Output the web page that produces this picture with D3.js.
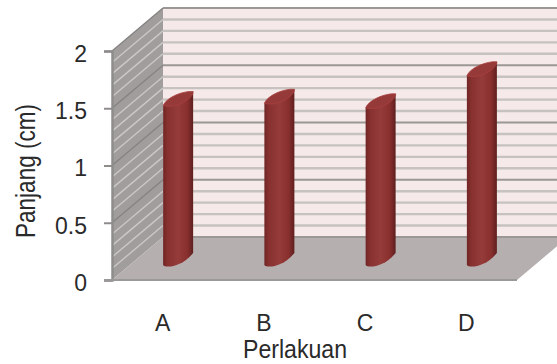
<!DOCTYPE html>
<html>
<head>
<meta charset="utf-8">
<script src="https://cdn.jsdelivr.net/npm/d3@7"></script>
<style>
  html, body { margin: 0; padding: 0; background: #fff; overflow: hidden; }
  svg { display: block; }
  text { font-family: "Liberation Sans Narrow", "Liberation Sans", sans-serif; fill: #2a2a2a; }
</style>
</head>
<body>
<svg id="chart" width="557" height="364"></svg>
<script>
// Panjang per perlakuan
const categories = ["A", "B", "C", "D"];
const values = [1.41, 1.43, 1.39, 1.67];
const majorTicks = [0, 0.5, 1, 1.5, 2];
const minorTicks = d3.range(0, 21).map(i => i / 10);

const svg = d3.select("#chart");
const labelFont = '"Liberation Sans Narrow", "Liberation Sans", sans-serif';

// Front plane of the 3D box, plus the depth offset to its back plane
const y = d3.scaleLinear().domain([0, 2]).range([280, 51]);
const x = d3.scaleBand().domain(categories).range([112, 517]);
const depth = { dx: 51, dy: -43 };
const left = 112, right = 517;

const floorPts = [[left, y(0)], [right, y(0)], [right + depth.dx, y(0) + depth.dy], [left + depth.dx, y(0) + depth.dy]];
const sidePts = [[left, y(0)], [left, y(2)], [left + depth.dx, y(2) + depth.dy], [left + depth.dx, y(0) + depth.dy]];
const poly = d3.line();

// Back wall
svg.append("rect")
  .attr("x", left + depth.dx).attr("y", y(2) + depth.dy)
  .attr("width", right - left).attr("height", y(0) - y(2))
  .attr("fill", "#f5e9e9");

// Side wall
svg.append("path").attr("d", poly(sidePts) + "Z").attr("fill", "#a19d9d");

// Floor
svg.append("path").attr("d", poly(floorPts) + "Z").attr("fill", "#b6afaf");

// Minor gridlines on both walls, then major ones above them
const isMajor = v => majorTicks.includes(v);
const backLine = v => poly([[left + depth.dx, y(v) + depth.dy], [right + depth.dx, y(v) + depth.dy]]);
const sideLine = v => poly([[left, y(v)], [left + depth.dx, y(v) + depth.dy]]);

svg.append("g").selectAll("path").data(minorTicks.filter(v => !isMajor(v))).join("path")
  .attr("d", backLine).attr("stroke", "#c6c2c0").attr("stroke-width", 2.4).attr("fill", "none");
svg.append("g").selectAll("path").data(minorTicks.filter(v => !isMajor(v))).join("path")
  .attr("d", sideLine).attr("stroke", "#cbc8c8").attr("stroke-width", 1.4).attr("fill", "none");
svg.append("g").selectAll("path").data(majorTicks).join("path")
  .attr("d", backLine).attr("stroke", "#9a9794").attr("stroke-width", 2).attr("fill", "none");
svg.append("g").selectAll("path").data(majorTicks.filter(v => v > 0)).join("path")
  .attr("d", sideLine).attr("stroke", "#858282").attr("stroke-width", 1.3).attr("fill", "none");

// Cylinders are sheared along the depth direction
const barWidth = 30;
const barShift = 15.5;
const baseLift = 13;
const rise = 14;

const defs = svg.append("defs");
const bodyGrad = defs.append("linearGradient").attr("id", "body");
[[0, "#6f2524"], [0.14, "#86302f"], [0.5, "#953c3b"], [0.8, "#89302f"], [1, "#5e1f1e"]]
  .forEach(([o, c]) => bodyGrad.append("stop").attr("offset", o).attr("stop-color", c));

const bars = svg.append("g").selectAll("g")
  .data(categories.map((c, i) => ({ c, v: values[i] })))
  .join("g");

bars.append("path")
  .attr("fill", "url(#body)")
  .attr("d", d => {
    const cx = x(d.c) + x.bandwidth() / 2 + barShift;
    const x0 = cx - barWidth / 2, x1 = cx + barWidth / 2;
    const yb = y(0) - baseLift;
    const yt = yb - (y(0) - y(d.v));
    return `M${x0},${yt}L${x0},${yb - 2}C${x0 + 2},${yb + 1} ${x0 + 18},${yb + 1} ${x1},${yb - rise}` +
           `L${x1},${yt - rise}Z`;
  });

// Top cap
bars.append("path")
  .attr("fill", "#963a39")
  .attr("stroke", "#a8403f")
  .attr("stroke-width", 0.8)
  .attr("d", d => {
    const cx = x(d.c) + x.bandwidth() / 2 + barShift;
    const x0 = cx - barWidth / 2, x1 = cx + barWidth / 2;
    const yb = y(0) - baseLift;
    const yt = yb - (y(0) - y(d.v));
    return `M${x0},${yt}C${x0 + 3},${yt - 8} ${x1 - 10},${yt - rise - 1} ${x1},${yt - rise}` +
           `C${x1 + 1},${yt - rise + 6} ${x0 + 13},${yt + 4} ${x0},${yt}Z`;
  });

// Value axis along the front edge
const yAxis = d3.axisLeft(y).tickValues(majorTicks).tickSize(8).tickPadding(17).tickFormat(d3.format("~g"));
const yG = svg.append("g").attr("transform", `translate(${left},0)`).call(yAxis);
yG.selectAll("line").attr("stroke", "#8f8c8c").attr("stroke-width", 2);
yG.select(".domain").attr("stroke", "#8f8c8c").attr("stroke-width", 2.5);
yG.selectAll("text").attr("font-size", 23).attr("dy", "0.45em").attr("fill", "#2a2a2a").style("font-family", labelFont);

// Category axis along the front edge
const xAxis = d3.axisBottom(x).tickSize(0).tickPadding(35);
const xG = svg.append("g").attr("transform", `translate(0,${y(0)})`).call(xAxis);
xG.select(".domain").remove();
xG.selectAll("text").attr("font-size", 23).attr("fill", "#2a2a2a").style("font-family", labelFont);
svg.append("line").attr("x1", left - 8).attr("x2", right).attr("y1", y(0)).attr("y2", y(0))
  .attr("stroke", "#9b9898").attr("stroke-width", 2);

// Axis titles
svg.append("text").attr("transform", "translate(35,171) rotate(-90)")
  .attr("text-anchor", "middle").attr("font-size", 27)
  .attr("textLength", 134).attr("lengthAdjust", "spacingAndGlyphs").text("Panjang (cm)");
svg.append("text").attr("x", 295).attr("y", 358)
  .attr("text-anchor", "middle").attr("font-size", 25)
  .attr("textLength", 104).attr("lengthAdjust", "spacingAndGlyphs").text("Perlakuan");
</script>
</body>
</html>
